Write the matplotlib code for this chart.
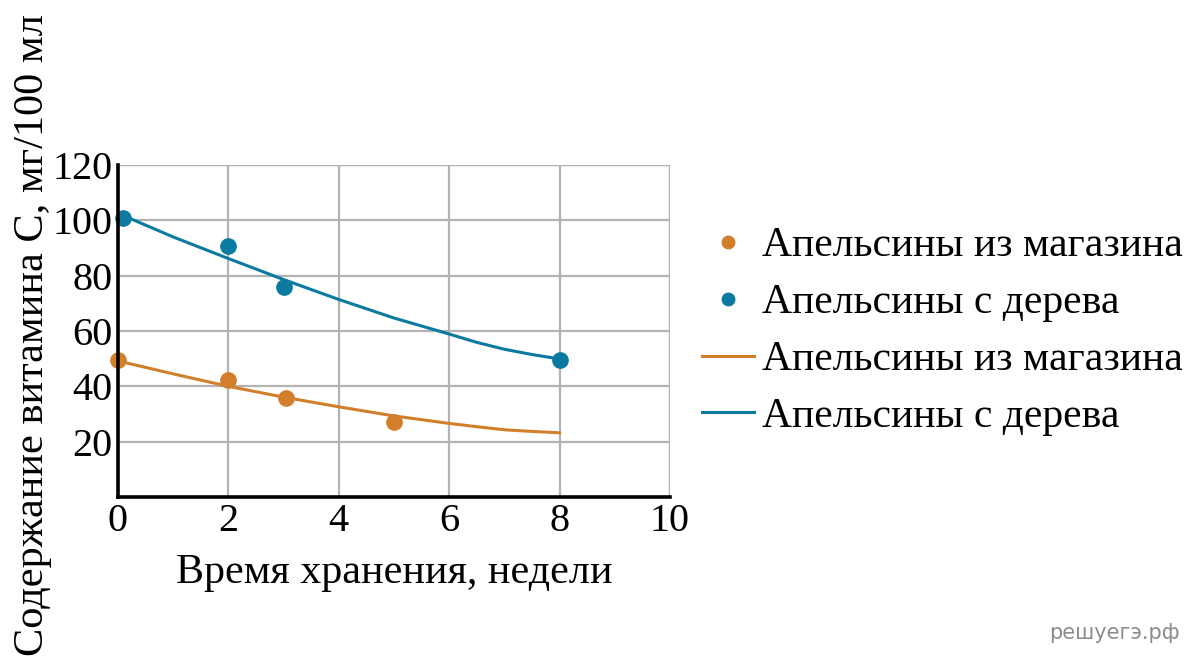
import numpy as np
import matplotlib.pyplot as plt
from matplotlib.legend_handler import HandlerLine2D

plt.rcParams['font.family'] = ['Liberation Serif', 'DejaVu Serif']

### Measured points (weeks, mg/100 ml)
shop_x = [0.0, 2.0, 3.05, 5.0]
shop_y = [49.5, 42.2, 35.8, 27.1]
tree_x = [0.1, 2.0, 3.0, 8.0]
tree_y = [100.7, 90.8, 76.0, 49.5]

### Trend lines
shop_trend_x = [0, 1, 2, 3, 4, 5, 6, 6.5, 7, 7.5, 8]
shop_trend = [49.2, 44.5, 40.0, 36.1, 32.6, 29.3, 26.6, 25.4, 24.3, 23.7, 23.2]
tree_trend_x = [0.1, 1, 2, 3, 4, 5, 6, 6.5, 7, 7.5, 8]
tree_trend = [101.7, 94.0, 86.2, 78.6, 71.4, 64.7, 58.9, 55.9, 53.4, 51.5, 49.9]

xticks = [0, 2, 4, 6, 8, 10]
yticks = [20, 40, 60, 80, 100, 120]

c_shop = '#d17f2b'
c_tree = '#0b7aa0'
lab_shop = 'Апельсины из магазина'
lab_tree = 'Апельсины с дерева'


### Legend handler that puts the dot near the right end of the handle
class RightDot(HandlerLine2D):
    def get_xdata(self, legend, xdescent, ydescent, width, height, fontsize):
        xdata = [-xdescent, -xdescent + width]
        return xdata, [-xdescent + 0.85*width]


fig = plt.figure(figsize=(12, 6.63), dpi=100)
ax = fig.add_axes([0.0983, 0.2504, 0.46, 0.5007])

### Grid and axes
ax.set_xlim(0, 10)
ax.set_ylim(0, 120)
ax.set_xticks(xticks)
ax.set_yticks(yticks)
ax.grid(True, color='#b3b3b3', linewidth=1.6)
ax.set_axisbelow(True)
for s in ['top', 'right']:
    ax.spines[s].set_visible(False)
for s in ['left', 'bottom']:
    ax.spines[s].set_linewidth(2.6)
    ax.spines[s].set_zorder(5)
ax.tick_params(length=0, labelsize=29, pad=4)
ax.axvline(10, color='#b3b3b3', linewidth=1.6, zorder=0)
ax.axhline(120, color='#b3b3b3', linewidth=1.6, zorder=0)

### Data
ax.plot(shop_x, shop_y, 'o', color=c_shop, markersize=11, clip_on=False, zorder=4)
ax.plot(tree_x, tree_y, 'o', color=c_tree, markersize=11, clip_on=False, zorder=4)
l1, = ax.plot(shop_trend_x, shop_trend, '-', color=c_shop, linewidth=2.2, zorder=3)
l2, = ax.plot(tree_trend_x, tree_trend, '-', color=c_tree, linewidth=2.2, zorder=3)

### Labels
ax.set_xlabel('Время хранения, недели', fontsize=30.3, labelpad=10)
fig.text(0.027, 0.495, 'Содержание витамина С, мг/100 мл', rotation=90,
         fontsize=30.5, ha='center', va='center')

### Legend
p1l, = ax.plot([], [], 'o', color=c_shop, markersize=9)
p2l, = ax.plot([], [], 'o', color=c_tree, markersize=9)
fig.legend([p1l, p2l, l1, l2], [lab_shop, lab_tree, lab_shop, lab_tree],
           loc='center left', bbox_to_anchor=(0.571, 0.500), borderaxespad=0,
           frameon=False, fontsize=30, handlelength=1.25, handletextpad=0.2,
           labelspacing=0.44, numpoints=1,
           handler_map={p1l: RightDot(), p2l: RightDot()})

fig.text(0.983, 0.045, 'решуегэ.рф', fontsize=15, color='#8c8c8c',
         family=['DejaVu Sans'], ha='right', va='center')

fig.savefig('out.png', dpi=100)
